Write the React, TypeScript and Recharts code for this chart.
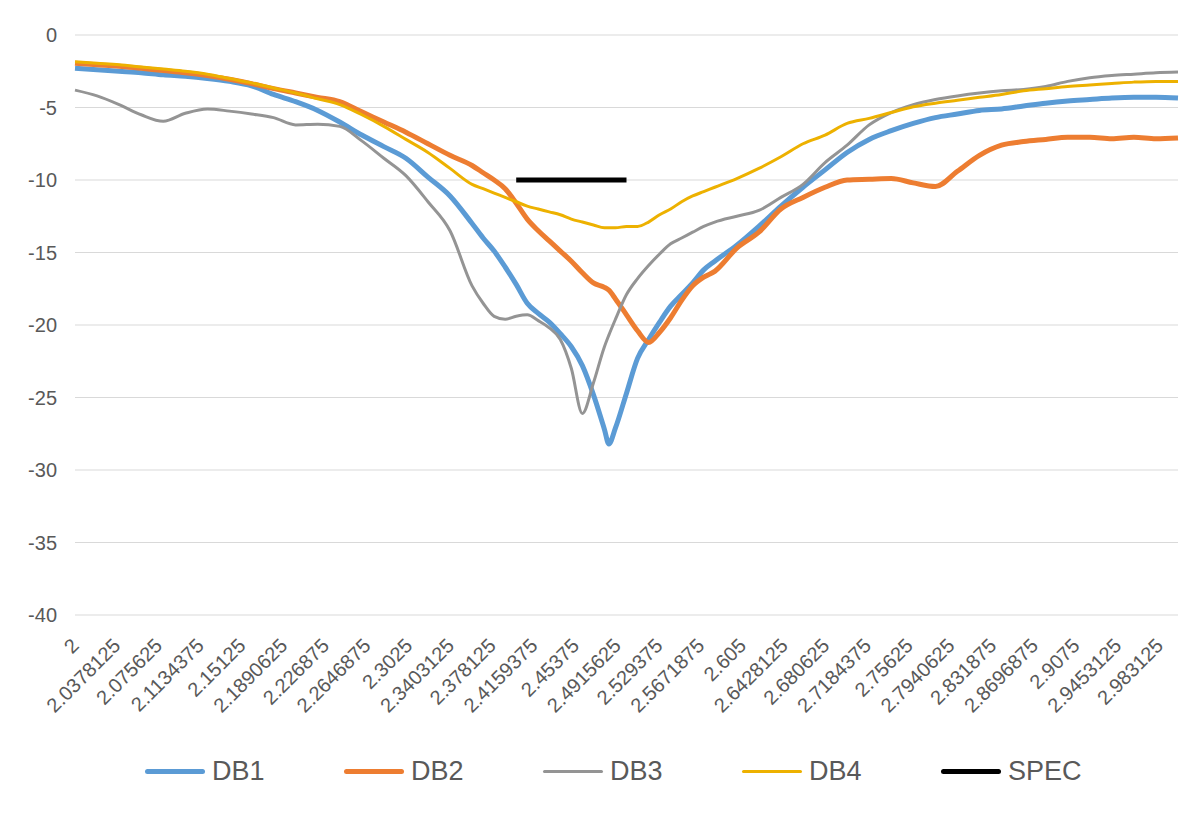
import { CartesianGrid, Legend, Line, LineChart, XAxis, YAxis } from "recharts";

// frequency (GHz) of each sampled point
const freq = [
  2.0, 2.02, 2.04, 2.06, 2.08, 2.1, 2.12, 2.14, 2.16, 2.18, 2.2, 2.22, 2.24, 2.26, 2.28, 2.3, 2.32, 2.34, 2.36,
  2.37, 2.38, 2.39, 2.4, 2.41, 2.42, 2.43, 2.44, 2.45, 2.46, 2.47, 2.48,
  2.484,
  2.49, 2.5, 2.51, 2.52, 2.53, 2.54, 2.55, 2.56, 2.57, 2.58,
  2.6, 2.62, 2.64, 2.66, 2.68, 2.7, 2.72, 2.74, 2.76, 2.78, 2.8, 2.82, 2.84, 2.86, 2.88, 2.9, 2.92, 2.94, 2.96, 2.98, 3.0,
];

const db1 = [
  -2.3, -2.4, -2.5, -2.6, -2.75, -2.85, -3.0, -3.2, -3.5, -4.1, -4.6, -5.2, -6.0, -6.9, -7.7, -8.5, -9.8, -11.1, -13.0,
  -14.0, -14.9, -16.0, -17.2, -18.5, -19.2, -19.8, -20.6, -21.5, -22.8, -24.8, -27.2,
  -28.2,
  -27.1, -24.7, -22.3, -21.0, -19.8, -18.7, -17.9, -17.1, -16.2, -15.6,
  -14.5, -13.2, -11.8, -10.5, -9.3, -8.1, -7.2, -6.6, -6.1, -5.7, -5.45, -5.2, -5.1, -4.9, -4.7, -4.55, -4.45, -4.35, -4.3, -4.3, -4.35,
];

const db2 = [
  -1.95, -2.05, -2.15, -2.3, -2.45, -2.6, -2.8, -3.05, -3.35, -3.7, -4.0, -4.3, -4.6, -5.3, -6.0, -6.7, -7.5, -8.3, -9.0,
  -9.5, -10.0, -10.6, -11.6, -12.7, -13.5, -14.2, -14.9, -15.6, -16.4, -17.1, -17.4,
  -17.6,
  -18.2, -19.3, -20.4, -21.2, -20.5, -19.5, -18.3, -17.3, -16.7, -16.3,
  -14.7, -13.6, -12.0, -11.2, -10.5, -10.0, -9.95, -9.9, -10.2, -10.45, -9.4, -8.3, -7.6, -7.35, -7.2, -7.05, -7.05, -7.15, -7.05, -7.15, -7.1,
];

const db3 = [
  -3.8, -4.2, -4.8, -5.5, -5.95, -5.4, -5.1, -5.25, -5.45, -5.7, -6.2, -6.15, -6.3, -7.3, -8.5, -9.7, -11.5, -13.5, -17.3,
  -18.5, -19.4, -19.6, -19.4, -19.3, -19.7, -20.2, -21.0, -23.0, -26.1, -24.0, -21.5,
  -20.7,
  -19.6, -17.9, -16.8, -15.9, -15.1, -14.4, -14.0, -13.6, -13.2, -12.9,
  -12.5, -12.1, -11.2, -10.3, -8.8, -7.6, -6.2, -5.35, -4.8, -4.45, -4.2, -4.0, -3.85, -3.75, -3.55, -3.2, -2.95, -2.8, -2.7, -2.6, -2.55,
];

const db4 = [
  -1.85, -1.95, -2.05, -2.2, -2.35, -2.5, -2.7, -3.0, -3.3, -3.65, -4.0, -4.4, -4.8, -5.5, -6.3, -7.2, -8.1, -9.2, -10.3,
  -10.6, -10.9, -11.2, -11.5, -11.8, -12.0, -12.2, -12.4, -12.7, -12.9, -13.1, -13.3,
  -13.3,
  -13.3, -13.2, -13.2, -12.9, -12.4, -12.0, -11.5, -11.1, -10.8, -10.5,
  -9.9, -9.2, -8.4, -7.5, -6.9, -6.1, -5.75, -5.35, -4.95, -4.7, -4.5, -4.3, -4.1, -3.85, -3.7, -3.55, -3.45, -3.35, -3.25, -3.2, -3.2,
];

// spec limit: -10 dB between 2.4 and 2.5 GHz
const specFrom = 2.4;
const specTo = 2.5;
const specLevel = -10;

const xTicks = [
  2, 2.0378125, 2.075625, 2.1134375, 2.15125, 2.1890625, 2.226875, 2.2646875, 2.3025, 2.3403125, 2.378125,
  2.4159375, 2.45375, 2.4915625, 2.529375, 2.5671875, 2.605, 2.6428125, 2.680625, 2.7184375, 2.75625,
  2.7940625, 2.831875, 2.8696875, 2.9075, 2.9453125, 2.983125,
];
const yTicks = [0, -5, -10, -15, -20, -25, -30, -35, -40];

const series = [
  { key: "DB1", color: "#5B9BD5", width: 5 },
  { key: "DB2", color: "#ED7D31", width: 5 },
  { key: "DB3", color: "#949494", width: 3 },
  { key: "DB4", color: "#EDB100", width: 3 },
  { key: "SPEC", color: "#000000", width: 5 },
];

const data = freq.map((f, i) => ({
  freq: f,
  DB1: db1[i],
  DB2: db2[i],
  DB3: db3[i],
  DB4: db4[i],
  SPEC: f >= specFrom && f <= specTo ? specLevel : null,
}));

const FONT = '"Liberation Sans", Arial, sans-serif';

const XTick = (props: any) => {
  const { x, y, payload } = props;
  return (
    <g transform={`translate(${x + 5},${y + 30})`}>
      <text
        x={0}
        y={0}
        textAnchor="end"
        transform="rotate(-45)"
        fill="#595959"
        fontSize={20}
        fontFamily={FONT}
      >
        {String(payload.value)}
      </text>
    </g>
  );
};

const renderLegend = () => (
  <div style={{ display: "flex", paddingLeft: 137, paddingTop: 4, fontFamily: FONT }}>
    {series.map((s) => (
      <div key={s.key} style={{ width: 199, display: "flex", alignItems: "center" }}>
        <div
          style={{
            width: 60,
            height: s.width,
            background: s.color,
            borderRadius: 3,
            marginRight: 7,
          }}
        />
        <span style={{ fontSize: 27, color: "#595959" }}>{s.key}</span>
      </div>
    ))}
  </div>
);

export default function App() {
  return (
    <div
      style={{
        width: 1186,
        height: 806,
        borderLeft: "1px solid #d9d9d9",
        borderTop: "1px solid #d9d9d9",
        margin: "-3px 0 0 -1px",
        background: "#fff",
      }}
    >
      <LineChart
        width={1186}
        height={806}
        data={data}
        margin={{ top: 29, right: 16, left: 7, bottom: 0 }}
      >
        <CartesianGrid vertical={false} stroke="#d9d9d9" strokeWidth={1} />
        <XAxis
          dataKey="freq"
          type="number"
          domain={[2, 3]}
          ticks={xTicks}
          interval={0}
          axisLine={false}
          tickLine={false}
          tickSize={0}
          height={137}
          tick={<XTick />}
        />
        <YAxis
          domain={[-40, 0]}
          ticks={yTicks}
          axisLine={false}
          tickLine={false}
          tickSize={0}
          tickMargin={18}
          width={60}
          tick={{ fill: "#595959", fontSize: 20, fontFamily: FONT }}
        />
        <Legend verticalAlign="bottom" height={60} wrapperStyle={{ left: 0, width: 1186 }} content={renderLegend} />
        {series.map((s) => (
          <Line
            key={s.key}
            type="monotone"
            dataKey={s.key}
            stroke={s.color}
            strokeWidth={s.width}
            dot={false}
            activeDot={false}
            isAnimationActive={false}
          />
        ))}
      </LineChart>
    </div>
  );
}
